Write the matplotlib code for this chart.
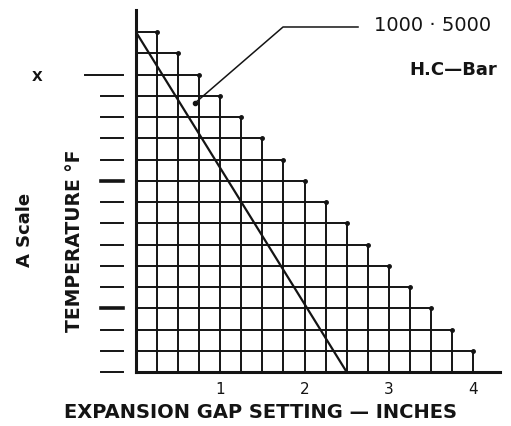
import matplotlib
matplotlib.use('Agg')
from matplotlib import pyplot as plt

# 数据: 间隙设置(英寸)每格0.25, 温度分格
gap_cols = [0.25, 0.5, 0.75, 1.0, 1.25, 1.5, 1.75, 2.0,
            2.25, 2.5, 2.75, 3.0, 3.25, 3.5, 3.75, 4.0]
step_rows = [16, 15, 14, 13, 12, 11, 10, 9, 8, 7, 6, 5, 4, 3, 2, 1]
scale_rows = [0, 1, 2, 3, 4, 5, 6, 7, 8, 9, 10, 11, 12, 13, 14]
gap_ticks = [1, 2, 3, 4]
gap_labels = ['1', '2', '3', '4']
line_gap = [0.0, 2.5]
line_rows = [16, 0]
label_line = '1000 · 5000'
label_mat = 'H.C—Bar'

ink = '#141414'
plt.rcParams['font.family'] = ['DejaVu Sans']

fig = plt.figure(figsize=(5.11, 4.26), dpi=100)
ax = fig.add_axes([136 / 511, 54 / 426, 364 / 511, 362 / 426])
ax.set_xlim(0, 4.32)
ax.set_ylim(0, 17.04)

# 阶梯网格
for c, r in zip(gap_cols, step_rows):
    ax.plot([c, c], [0, r], color=ink, lw=1.4, solid_capstyle='butt')
    ax.plot([0, c], [r, r], color=ink, lw=1.4, solid_capstyle='butt')
ax.plot(gap_cols, step_rows, 'o', color=ink, ms=2.5)

# 对角线
ax.plot(line_gap, line_rows, color=ink, lw=1.6)

# 左侧刻度短线
for r in scale_rows:
    x0 = -0.6 if r == 14 else -0.42
    w = 2.6 if r in (3, 9) else 1.4
    ax.plot([x0, -0.155], [r, r], color=ink, lw=w, clip_on=False)

# 引线
ax.plot([0.70, 1.745, 2.635], [12.66, 16.24, 16.24], color=ink, lw=1.1)
ax.plot([0.70], [12.66], 'o', color=ink, ms=3)
ax.text(2.83, 16.3, label_line, fontsize=14, color=ink, va='center', ha='left')
ax.text(4.29, 14.2, label_mat, fontsize=13, color=ink, va='center', ha='right',
        fontweight='bold')

# 坐标轴
for s in ['top', 'right']:
    ax.spines[s].set_visible(False)
ax.spines['left'].set_linewidth(2.2)
ax.spines['bottom'].set_linewidth(2.2)
ax.spines['left'].set_color(ink)
ax.spines['bottom'].set_color(ink)
ax.set_yticks([])
ax.set_xticks(gap_ticks)
ax.set_xticklabels(gap_labels, fontsize=11, color=ink)
ax.tick_params(axis='x', length=0, pad=7)

fig.text(64 / 511, 1 - 412 / 426, 'EXPANSION GAP SETTING — INCHES',
         fontsize=14, fontweight='bold', color=ink, va='center', ha='left')
fig.text(75 / 511, 1 - 241 / 426, 'TEMPERATURE °F', rotation=90,
         fontsize=13.5, fontweight='bold', color=ink, va='center', ha='center')
fig.text(25 / 511, 1 - 230 / 426, 'A Scale', rotation=90,
         fontsize=13, fontweight='bold', color=ink, va='center', ha='center')
fig.text(37 / 511, 1 - 77 / 426, 'X', fontsize=10, fontweight='bold',
         color=ink, va='center', ha='center')

fig.savefig('out.png', dpi=100)
